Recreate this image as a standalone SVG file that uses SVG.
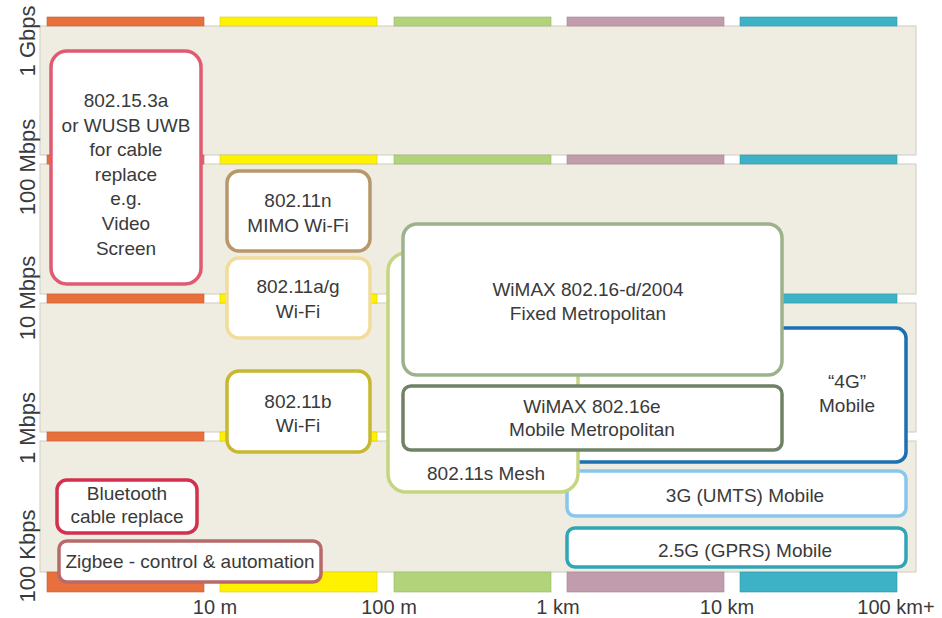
<svg xmlns="http://www.w3.org/2000/svg" width="942" height="618" viewBox="0 0 942 618">
<style>
text{font-family:"Liberation Sans",Arial,sans-serif;fill:#3a3a3a}
.t{font-size:19px;text-anchor:middle}
.ax{font-size:22px;text-anchor:middle}
.xl{font-size:20px;text-anchor:middle}
.panel{fill:#efede1;stroke:#cfccc0;stroke-width:1}
.node{fill:#fff;stroke-width:3.5}
.o{fill:#e8703c;stroke:#c85f32;stroke-width:.6}
.y{fill:#fff200;stroke:#d8cc10;stroke-width:.6}
.g{fill:#b3d37b;stroke:#98b868;stroke-width:.6}
.m{fill:#c19cac;stroke:#a88494;stroke-width:.6}
.c{fill:#3db1c5;stroke:#2d98aa;stroke-width:.6}
</style>
<rect width="942" height="618" fill="#fff"/>
<g id="panels">
<rect class="panel" x="40" y="26" width="876" height="129"/>
<rect class="panel" x="40" y="164" width="876" height="130"/>
<rect class="panel" x="40" y="303" width="876" height="129"/>
<rect class="panel" x="40" y="441" width="876" height="131"/>
</g>
<g id="bars">
<rect class="o" x="47" y="17" width="157" height="9"/><rect class="y" x="220" y="17" width="157" height="9"/><rect class="g" x="394" y="17" width="157" height="9"/><rect class="m" x="567" y="17" width="157" height="9"/><rect class="c" x="740" y="17" width="157" height="9"/>
<rect class="o" x="47" y="155" width="157" height="9"/><rect class="y" x="220" y="155" width="157" height="9"/><rect class="g" x="394" y="155" width="157" height="9"/><rect class="m" x="567" y="155" width="157" height="9"/><rect class="c" x="740" y="155" width="157" height="9"/>
<rect class="o" x="47" y="294" width="157" height="9"/><rect class="y" x="220" y="294" width="157" height="9"/><rect class="g" x="394" y="294" width="157" height="9"/><rect class="m" x="567" y="294" width="157" height="9"/><rect class="c" x="740" y="294" width="157" height="9"/>
<rect class="o" x="47" y="432" width="157" height="9"/><rect class="y" x="220" y="432" width="157" height="9"/><rect class="g" x="394" y="432" width="157" height="9"/><rect class="m" x="567" y="432" width="157" height="9"/><rect class="c" x="740" y="432" width="157" height="9"/>
<rect class="o" x="47" y="572" width="157" height="20"/><rect class="y" x="220" y="572" width="157" height="20"/><rect class="g" x="394" y="572" width="157" height="20"/><rect class="m" x="567" y="572" width="157" height="20"/><rect class="c" x="740" y="572" width="157" height="20"/>
</g>
<g id="axis-labels">
<text class="ax" transform="translate(35,41) rotate(-90)">1 Gbps</text>
<text class="ax" transform="translate(35,167) rotate(-90)">100 Mbps</text>
<text class="ax" transform="translate(35,298) rotate(-90)">10 Mbps</text>
<text class="ax" transform="translate(35,428) rotate(-90)">1 Mbps</text>
<text class="ax" transform="translate(35,556) rotate(-90)">100 Kbps</text>
<text class="xl" x="215" y="614">10 m</text>
<text class="xl" x="389" y="614">100 m</text>
<text class="xl" x="558" y="614">1 km</text>
<text class="xl" x="727" y="614">10 km</text>
<text class="xl" x="896" y="614">100 km+</text>
</g>
<g id="connectors"/>
<g id="n-4g">
<rect class="node" x="567" y="328" width="339" height="134" rx="10" stroke="#1b6fb3" stroke-width="4"/>
<text class="t" x="847" y="388">“4G”</text>
<text class="t" x="847" y="412">Mobile</text>
</g>
<g id="n-3g">
<rect class="node" x="567" y="471" width="339" height="45" rx="8" stroke="#88c6ec"/>
<text class="t" x="745" y="502">3G (UMTS) Mobile</text>
</g>
<g id="n-25g">
<rect class="node" x="567" y="528" width="339" height="39" rx="8" stroke="#2fa6b6"/>
<text class="t" x="745" y="557">2.5G (GPRS) Mobile</text>
</g>
<g id="n-mesh">
<rect class="node" x="388" y="253" width="190" height="239" rx="18" stroke="#c6d680"/>
<text class="t" x="486" y="480">802.11s Mesh</text>
</g>
<g id="n-wimax-fixed">
<rect class="node" x="403" y="224" width="379" height="151" rx="14" stroke="#9cb28c"/>
<text class="t" x="588" y="296">WiMAX 802.16-d/2004</text>
<text class="t" x="588" y="320">Fixed Metropolitan</text>
</g>
<g id="n-wimax-mobile">
<rect class="node" x="403" y="386" width="379" height="64" rx="8" stroke="#6f8266" stroke-width="4"/>
<text class="t" x="592" y="413">WiMAX 802.16e</text>
<text class="t" x="592" y="436">Mobile Metropolitan</text>
</g>
<g id="n-uwb">
<rect class="node" x="51" y="51" width="150" height="233" rx="16" stroke="#e05a72"/>
<text class="t" x="126" y="107">802.15.3a</text>
<text class="t" x="126" y="131.6">or WUSB UWB</text>
<text class="t" x="126" y="156.2">for cable</text>
<text class="t" x="126" y="180.8">replace</text>
<text class="t" x="126" y="205.4">e.g.</text>
<text class="t" x="126" y="230">Video</text>
<text class="t" x="126" y="254.6">Screen</text>
</g>
<g id="n-80211n">
<rect class="node" x="227" y="171" width="143" height="80" rx="12" stroke="#b8976a"/>
<text class="t" x="298" y="207">802.11n</text>
<text class="t" x="298" y="232">MIMO Wi-Fi</text>
</g>
<g id="n-80211ag">
<rect class="node" x="227" y="258" width="143" height="80" rx="12" stroke="#f2dc9a"/>
<text class="t" x="298" y="293">802.11a/g</text>
<text class="t" x="298" y="318">Wi-Fi</text>
</g>
<g id="n-80211b">
<rect class="node" x="227" y="371" width="143" height="81" rx="12" stroke="#c8b830"/>
<text class="t" x="298" y="408">802.11b</text>
<text class="t" x="298" y="432">Wi-Fi</text>
</g>
<g id="n-bluetooth">
<rect class="node" x="57" y="480" width="140" height="53" rx="10" stroke="#d2304e"/>
<text class="t" x="127" y="500">Bluetooth</text>
<text class="t" x="127" y="523">cable replace</text>
</g>
<g id="n-zigbee">
<rect class="node" x="59" y="541" width="262" height="41" rx="8" stroke="#b86a6a"/>
<text class="t" x="190" y="568">Zigbee - control &amp; automation</text>
</g>
</svg>
